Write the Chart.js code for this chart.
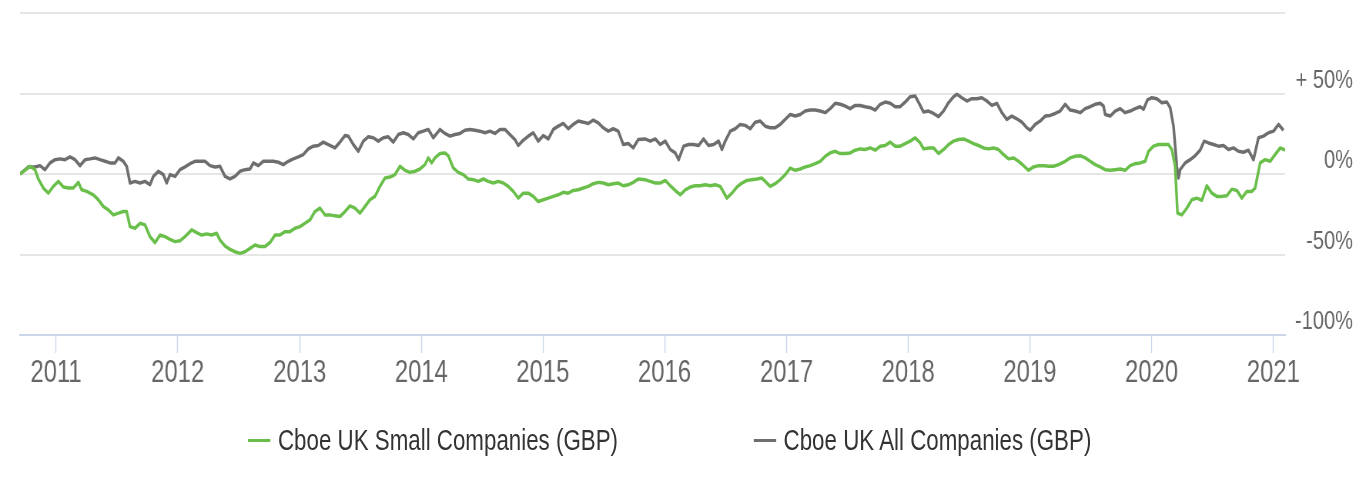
<!DOCTYPE html>
<html>
<head>
<meta charset="utf-8">
<script src="https://cdn.jsdelivr.net/npm/chart.js@4.4.1/dist/chart.umd.min.js"></script>
<style>
    html, body { margin: 0; padding: 0; overflow: hidden; background: #fff; }
    /* o original é "espremido" na horizontal: desenha largo e comprime */
    #wrap { position: absolute; left: 0; top: 0; width: 1778px; height: 483px; transform: scaleX(0.77); transform-origin: 0 0; }
    #caixa-grafico { position: absolute; left: 0; top: 0; width: 1778px; height: 483px; }
    #legenda { position: absolute; left: 322px; top: 423px; display: flex; gap: 176px; font-family: "Liberation Sans", Arial, sans-serif; font-size: 29px; line-height: 34px; color: #333; white-space: nowrap; }
    .item { display: flex; align-items: center; }
    .traco { display: inline-block; width: 29px; height: 3px; margin-right: 10px; }
</style>
</head>
<body>
<div id="wrap">
    <div id="caixa-grafico"><canvas id="grafico"></canvas></div>
    <div id="legenda"></div>
</div>
<script>
// dias contados a partir de 1 jan 2011, valores em %
const nomes = ["Cboe UK Small Companies (GBP)", "Cboe UK All Companies (GBP)"];
const cores = ["#6abf4b", "#6e6e6e"];
const anos = [2011, 2012, 2013, 2014, 2015, 2016, 2017, 2018, 2019, 2020, 2021];
const inicioDia = -108;
const fimDia = 3688;

const smallDays = [-108,-93,-78,-63,-53,-38,-23,-8,7,22,37,52,67,77,92,112,127,142,157,172,187,202,212,222,237,252,267,282,297,312,327,342,357,372,387,407,422,437,452,467,482,492,507,
    522,537,552,567,582,597,612,627,642,657,672,687,702,717,732,747,762,777,792,807,822,837,852,867,882,897,912,927,942,957,972,987,1002,1017,1032,1047,1062,1077,1092,1107,1117,1127,1137,
    1152,1167,1177,1192,1207,1222,1237,1252,1267,1282,1297,1312,1327,1342,1357,1372,1387,1402,1417,1432,1447,1462,1477,1492,1507,1522,1537,1552,1567,1582,1597,1612,1627,1642,1657,1672,1687,1702,1717,1732,1747,1767,
    1783,1798,1813,1828,1843,1858,1873,1888,1903,1918,1933,1948,1963,1978,1993,2013,2028,2043,2058,2073,2088,2103,2118,2128,2143,2158,2173,2188,2203,2218,2233,2248,2263,2278,2293,2308,2323,2338,2353,2368,2383,2398,
    2413,2428,2443,2458,2473,2488,2503,2518,2533,2548,2563,2578,2593,2603,2618,2633,2648,2663,2678,2693,2708,2723,2738,2753,2768,2783,2798,2813,2828,2843,2858,2873,2888,2903,2918,2933,2948,2963,2978,2993,3008,3028,
    3043,3058,3073,3088,3103,3118,3133,3148,3163,3178,3193,3208,3223,3238,3253,3268,3278,3293,3308,3323,3338,3348,3358,3365,3378,3393,3408,3423,3438,3453,3468,3483,3498,3513,3528,3543,3558,3573,3588,3598,3613,3628,3643,3658,3673,3688];
const smallValues = [0.0,2.3,4.8,2.7,-3.1,-8.7,-11.9,-7.7,-4.6,-8.1,-8.7,-8.7,-5.2,-9.8,-10.8,-12.9,-16.0,-20.2,-22.3,-25.4,-24.3,-23.3,-23.3,-32.7,-33.7,-30.6,-31.6,-38.9,-42.6,-37.9,-38.9,-40.6,-42.0,-41.4,-38.9,-34.7,-36.4,-37.9,-37.2,-37.9,-36.8,-41.0,-44.7,
    -46.8,-48.3,-49.3,-48.3,-46.2,-44.1,-45.1,-45.1,-42.6,-37.9,-37.9,-35.8,-35.8,-33.7,-32.7,-30.6,-28.5,-23.3,-21.2,-25.4,-25.4,-26.0,-26.4,-23.3,-19.8,-21.2,-24.3,-20.2,-16.0,-13.9,-7.7,-2.5,-1.9,-0.4,4.8,2.3,1.0,1.7,3.1,5.8,10.0,6.9,10.0,
    12.7,13.1,11.4,3.7,1.0,-0.4,-3.1,-3.5,-4.6,-3.1,-4.6,-5.6,-4.6,-5.6,-7.7,-10.8,-15.0,-11.9,-11.9,-13.9,-17.1,-16.0,-15.0,-13.9,-12.9,-11.4,-11.9,-10.2,-9.8,-8.7,-7.7,-6.0,-5.2,-5.6,-6.7,-6.0,-5.6,-7.3,-6.7,-5.2,-3.1,-3.5,
    -4.6,-5.6,-5.6,-4.0,-7.3,-10.2,-12.9,-9.8,-8.1,-7.3,-7.3,-6.7,-7.3,-6.7,-7.7,-15.0,-11.9,-8.1,-5.6,-4.0,-3.5,-3.1,-2.5,-4.6,-7.7,-6.0,-3.5,-0.4,3.7,2.3,3.1,4.4,5.2,6.4,7.9,11.0,13.1,14.1,12.7,12.7,13.1,14.8,
    15.6,15.2,16.2,14.8,17.3,17.7,19.8,17.3,17.3,18.9,20.4,22.5,19.3,15.6,16.2,16.2,12.7,15.2,18.3,20.4,21.4,21.8,20.4,18.9,17.7,16.2,15.6,16.2,15.2,12.1,9.4,10.0,7.9,5.2,2.3,4.4,5.2,5.2,4.8,4.8,5.8,7.9,
    10.0,11.0,11.4,10.0,7.9,5.8,4.4,2.7,2.3,2.7,3.1,2.3,5.2,6.4,6.9,7.9,14.1,17.3,18.3,18.3,18.3,15.2,4.8,-24.3,-25.4,-21.2,-16.0,-15.0,-16.4,-7.3,-11.9,-13.9,-13.9,-13.5,-9.4,-10.2,-15.0,-10.8,-10.8,-8.7,6.9,8.9,7.9,12.1,16.2,14.8];

const allDays = [-108,-83,-63,-48,-33,-18,-3,12,27,42,57,72,87,102,117,132,147,162,177,187,202,212,222,237,252,267,282,292,307,322,332,342,357,372,387,402,417,432,447,462,477,492,507,
    522,537,552,567,582,592,607,622,637,652,667,682,697,712,727,742,757,772,787,802,817,837,852,867,877,892,907,922,937,952,967,982,997,1012,1027,1042,1057,1072,1087,1102,1117,1132,
    1152,1167,1182,1197,1212,1227,1242,1257,1272,1287,1302,1317,1332,1347,1362,1377,1387,1402,1417,1432,1447,1462,1477,1492,1507,1522,1537,1552,1567,1582,1597,1612,1627,1642,1657,1672,1687,1702,1717,1732,1747,1767,
    1783,1798,1813,1828,1843,1858,1868,1883,1898,1913,1928,1943,1958,1973,1988,1998,2008,2023,2038,2053,2068,2083,2098,2113,2128,2143,2158,2173,2188,2203,2218,2233,2248,2263,2278,2293,2308,2323,2338,2353,2368,2383,2398,
    2413,2428,2443,2458,2473,2488,2503,2518,2533,2548,2563,2578,2593,2603,2618,2633,2648,2663,2678,2693,2703,2718,2733,2748,2763,2778,2793,2808,2823,2838,2853,2868,2883,2898,2913,2923,2938,2953,2968,2983,2998,3013,3028,
    3043,3058,3073,3088,3103,3118,3133,3143,3148,3163,3178,3193,3208,3223,3238,3253,3263,3275,3288,3303,3318,3333,3343,3353,3358,3363,3368,3373,3388,3403,3418,3433,3445,3458,3473,3488,3503,3518,3533,3548,3563,3578,3593,3608,3623,3638,3653,3668,3683];
const allValues = [0.0,4.4,4.4,5.2,2.7,6.9,8.9,9.4,8.9,10.6,8.9,5.2,8.9,9.4,10.0,8.9,7.9,6.9,6.9,10.0,7.9,4.8,-5.6,-4.6,-5.6,-4.6,-6.7,-1.5,1.7,-0.4,-5.6,-0.4,-1.5,2.7,4.4,6.4,7.9,7.9,7.9,5.2,4.4,4.8,-1.5,
    -3.1,-1.5,1.7,2.7,3.1,6.9,5.2,7.9,7.9,7.9,7.3,5.8,7.9,9.4,10.6,12.1,15.6,17.3,17.7,19.8,18.3,16.2,19.8,23.9,23.5,18.3,14.1,20.4,23.1,22.5,20.4,22.5,23.1,19.8,24.5,25.6,24.5,21.8,25.6,26.6,27.7,22.5,
    27.7,25.2,23.5,24.5,25.2,27.2,27.7,27.2,26.6,25.6,26.6,25.2,27.7,27.7,24.5,21.4,17.7,21.0,23.5,25.6,20.4,23.9,21.8,27.7,29.7,31.4,28.1,30.8,32.9,32.2,31.4,33.5,31.8,28.7,26.6,28.1,26.6,18.3,18.9,16.2,21.4,21.8,
    20.4,21.8,18.3,20.4,15.2,13.1,8.9,17.3,18.3,18.3,17.7,21.8,17.7,18.3,20.4,15.2,20.4,26.6,28.1,30.8,30.2,28.1,32.2,32.9,29.7,28.7,28.7,30.8,33.9,37.0,36.0,37.0,39.1,39.7,39.7,39.1,38.1,40.6,43.9,43.3,42.2,40.6,42.6,
    42.6,41.8,41.2,39.7,43.3,44.7,43.9,41.8,41.8,44.7,48.0,48.5,42.6,38.5,39.1,37.6,35.6,39.1,44.3,48.0,49.5,47.4,45.3,46.8,46.8,47.4,45.3,42.6,43.9,38.1,33.9,36.0,34.3,32.2,28.7,27.2,30.8,32.9,36.0,36.4,37.6,39.1,43.3,
    39.7,39.1,38.1,40.6,41.8,43.3,43.9,42.2,37.0,36.0,39.1,40.6,38.1,39.1,40.6,41.8,40.2,46.0,47.4,46.8,44.3,44.7,41.2,29.7,17.3,4.8,-2.5,2.7,6.9,8.9,11.4,14.8,20.4,19.3,18.3,17.3,17.7,15.2,16.2,14.1,13.5,14.8,8.9,22.5,23.5,25.6,26.6,30.8,27.2];

const FONTE = '"Liberation Sans", Arial, sans-serif';
const paraTempo = d => Date.UTC(2011, 0, 1) + d * 864e5;
const pontos = (dias, valores) => dias.map((d, i) => ({ x: paraTempo(d), y: valores[i] }));

const series = [
    { dias: smallDays, valores: smallValues },
    { dias: allDays, valores: allValues }
];

const grafico = new Chart(document.getElementById("grafico"), {
    type: "line",
    data: {
        datasets: series.map((s, i) => ({
            label: nomes[i],
            data: pontos(s.dias, s.valores),
            borderColor: cores[i],
            backgroundColor: cores[i],
            borderWidth: 3.5,
            borderJoinStyle: "round",
            pointRadius: 0,
            tension: 0,
            fill: false
        }))
    },
    options: {
        responsive: true,
        maintainAspectRatio: false,
        animation: false,
        layout: { padding: { left: 26, right: 21, top: 13, bottom: 0 } },
        plugins: {
            legend: { display: false },
            tooltip: { enabled: false }
        },
        scales: {
            x: {
                type: "linear",
                min: paraTempo(inicioDia),
                max: paraTempo(fimDia),
                afterBuildTicks: eixo => {
                    eixo.ticks = anos.map(a => ({ value: Date.UTC(a, 0, 1) }));
                },
                afterFit: eixo => {
                    eixo.height = 148;
                    eixo.paddingLeft = 0;
                    eixo.paddingRight = 0;
                },
                grid: { drawOnChartArea: false, drawTicks: true, tickLength: 18, tickColor: "#ccd6eb", tickWidth: 1.4 },
                border: { color: "#ccd6eb", width: 2 },
                ticks: {
                    autoSkip: false,
                    maxRotation: 0,
                    padding: 2,
                    color: "#666",
                    font: { family: FONTE, size: 31 },
                    callback: v => new Date(v).getUTCFullYear()
                }
            },
            y: {
                position: "right",
                min: -100,
                max: 100,
                afterFit: eixo => {
                    eixo.width = 88;
                    // sem folga extra para os rótulos das pontas
                    eixo.paddingTop = 0;
                    eixo.paddingBottom = 0;
                },
                grid: {
                    drawTicks: false,
                    lineWidth: 2,
                    color: c => (c.tick && c.tick.value === -100) ? "#ccd6eb" : "#e6e6e6"
                },
                border: { display: false },
                ticks: {
                    stepSize: 50,
                    labelOffset: -13,
                    crossAlign: "far",
                    padding: 13,
                    color: "#666",
                    font: { family: FONTE, size: 26 },
                    callback: v => v === 100 ? "" : (v > 0 ? "+ " + v + "%" : v + "%")
                }
            }
        }
    }
});

// legenda em HTML, a partir dos datasets
const legenda = document.getElementById("legenda");
grafico.data.datasets.forEach(ds => {
    const item = document.createElement("div");
    item.className = "item";
    const traco = document.createElement("span");
    traco.className = "traco";
    traco.style.backgroundColor = ds.borderColor;
    const texto = document.createElement("span");
    texto.innerText = ds.label;
    item.appendChild(traco);
    item.appendChild(texto);
    legenda.appendChild(item);
});
</script>
</body>
</html>
